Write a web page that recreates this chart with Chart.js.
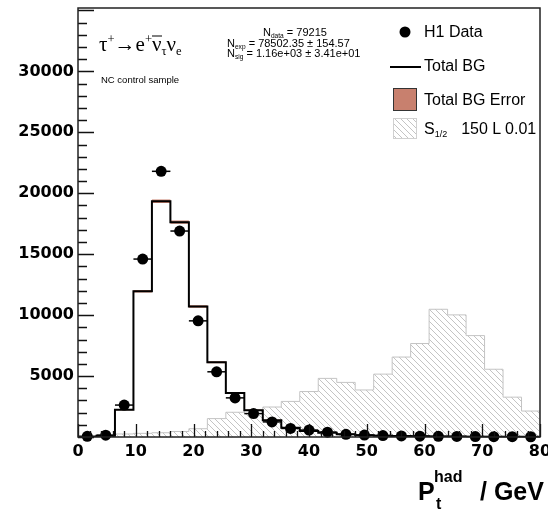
<!DOCTYPE html>
<html>
<head>
<meta charset="utf-8">
<script src="https://cdn.jsdelivr.net/npm/chart.js@4.4.1/dist/chart.umd.min.js"></script>
<style>
  html, body { margin: 0; padding: 0; background: #fff; }
  #wrap { position: relative; width: 548px; height: 515px; overflow: hidden; }
  #plot { position: absolute; left: 0; top: 0; }
  .t { position: absolute; white-space: nowrap; line-height: 1; color: #000;
       font-family: "Liberation Sans", Arial, sans-serif; transform: translateY(-50%); }
  .sb { font-size: 0.6em; position: relative; top: 0.3em; }
  .sp { font-size: 0.6em; position: relative; top: -0.6em; }
  .bar { display: inline-block; border-top: 1.5px solid #000; line-height: 0.75; }
  .leg { font-size: 16px; left: 424px; }
  .nt { font-size: 11px; }
  .ax { font-family: "Liberation Sans", Arial, sans-serif; font-weight: bold; position: absolute;
        line-height: 1; white-space: nowrap; }
</style>
</head>
<body>
<div id="wrap">
  <canvas id="plot" width="548" height="515"></canvas>

  <div class="t" style="left:99px; top:44px; font-family:'Liberation Serif', serif; font-size:21px;">τ<span class="sp">+</span>→e<span class="sp">+</span><span class="bar">ν</span><span class="sb">τ</span>ν<span class="sb">e</span></div>
  <div class="t" style="left:101px; top:80px; font-size:9.5px;">NC control sample</div>

  <div class="t nt" style="left:263px; top:32px;">N<span class="sb">data</span> = 79215</div>
  <div class="t nt" style="left:227px; top:43px;">N<span class="sb">exp</span> = 78502.35 ± 154.57</div>
  <div class="t nt" style="left:227px; top:53px;">N<span class="sb">sig</span> = 1.16e+03 ± 3.41e+01</div>

  <div class="t leg" style="top:32px;">H1 Data</div>
  <div class="t leg" style="top:66px;">Total BG</div>
  <div class="t leg" style="top:100px;">Total BG Error</div>
  <div class="t leg" style="top:129px;">S<span class="sb" style="font-size:9px">1/2</span><span style="margin-left:14px">150 L 0.01</span></div>

  <div class="ax" style="left:418px; top:479px; font-size:25px;">P</div>
  <div class="ax" style="left:434px; top:469px; font-size:16px;">had</div>
  <div class="ax" style="left:436px; top:496px; font-size:16px;">t</div>
  <div class="ax" style="left:480px; top:479px; font-size:25px;">/ GeV</div>
</div>

<script>
// P_t^had bins, 3.2 GeV wide
const binEdges = [0, 3.2, 6.4, 9.6, 12.8, 16, 19.2, 22.4, 25.6, 28.8, 32, 35.2, 38.4,
  41.6, 44.8, 48, 51.2, 54.4, 57.6, 60.8, 64, 67.2, 70.4, 73.6, 76.8, 80];

const dataCounts = [60, 150, 2620, 14600, 21800, 16900, 9530, 5350, 3210, 1920, 1240, 700,
  570, 400, 220, 160, 120, 90, 70, 55, 45, 35, 30, 25, 20];

const bgCounts = [0, 100, 2240, 11960, 19350, 17630, 10700, 6130, 3620, 2190, 1380, 760,
  490, 350, 220, 150, 110, 80, 60, 50, 40, 30, 25, 20, 15];

const bgErrors = [0, 10, 50, 110, 140, 135, 105, 80, 60, 47, 37, 28,
  22, 19, 15, 12, 10, 9, 8, 7, 6, 5, 5, 4, 4];

const signalCounts = [0, 50, 250, 300, 350, 450, 680, 1510, 2030, 2240, 2460, 2920,
  3730, 4810, 4480, 3860, 5160, 6560, 7670, 10480, 10020, 8320, 5560, 3270, 2130];

const xTicks = [0, 10, 20, 30, 40, 50, 60, 70, 80];
const yTicks = [5000, 10000, 15000, 20000, 25000, 30000];

const tickFont = { family: 'DejaVu Sans', size: 16, weight: 'bold' };

// histogram outline: value of bin i runs from edge i to edge i+1
function stepPoints(values, dropAtEnd) {
  const pts = values.map((v, i) => ({ x: binEdges[i], y: v }));
  pts.push({ x: binEdges[values.length], y: values[values.length - 1] });
  if (dropAtEnd) pts.push({ x: binEdges[values.length], y: 0 });
  return pts;
}

const dataPoints = dataCounts.map((v, i) => ({
  x: (binEdges[i] + binEdges[i + 1]) / 2, y: v, lo: binEdges[i], hi: binEdges[i + 1]
}));
const bandUpper = bgCounts.map((v, i) => v + bgErrors[i]);
const bandLower = bgCounts.map((v, i) => Math.max(v - bgErrors[i], 0));

function makeHatch(color) {
  const c = document.createElement('canvas');
  c.width = 6; c.height = 6;
  const g = c.getContext('2d');
  g.strokeStyle = color;
  g.lineWidth = 1;
  g.beginPath();
  g.moveTo(0, 0); g.lineTo(6, 6);
  g.moveTo(-1, 5); g.lineTo(1, 7);
  g.moveTo(5, -1); g.lineTo(7, 1);
  g.stroke();
  return g.createPattern(c, 'repeat');
}
const hatch = makeHatch('#c4c4c4');
const errColor = '#c8806e';

// inside ticks, frame, horizontal error bars and legend symbols
const rootStyle = {
  id: 'rootStyle',
  afterDatasetsDraw(chart) {
    const { ctx, chartArea: a, scales: { x, y } } = chart;
    ctx.save();

    // bin-width bars on the data points
    ctx.strokeStyle = '#000';
    ctx.lineWidth = 1.5;
    dataPoints.forEach(p => {
      const py = y.getPixelForValue(p.y);
      ctx.beginPath();
      ctx.moveTo(x.getPixelForValue(p.lo), py);
      ctx.lineTo(x.getPixelForValue(p.hi), py);
      ctx.stroke();
    });

    ctx.lineWidth = 1.3;
    ctx.strokeStyle = '#111';
    ctx.beginPath();
    for (let v = 0; v <= y.max; v += 1000) {
      const py = Math.round(y.getPixelForValue(v)) + 0.5;
      const len = v % 5000 === 0 ? 16 : 9;
      ctx.moveTo(a.left, py);
      ctx.lineTo(a.left + len, py);
    }
    for (let v = 0; v <= x.max; v += 2) {
      const px = Math.round(x.getPixelForValue(v)) + 0.5;
      const len = v % 10 === 0 ? 13 : 6;
      ctx.moveTo(px, a.bottom);
      ctx.lineTo(px, a.bottom - len);
    }
    ctx.stroke();

    ctx.lineWidth = 1.5;
    ctx.strokeStyle = '#222';
    ctx.strokeRect(a.left, a.top, a.right - a.left, a.bottom - a.top);

    // legend symbols
    ctx.fillStyle = '#000';
    ctx.beginPath();
    ctx.arc(405, 32, 5.5, 0, Math.PI * 2);
    ctx.fill();

    ctx.lineWidth = 2;
    ctx.strokeStyle = '#000';
    ctx.beginPath();
    ctx.moveTo(390, 67);
    ctx.lineTo(421, 67);
    ctx.stroke();

    ctx.fillStyle = errColor;
    ctx.fillRect(393, 88, 24, 23);
    ctx.lineWidth = 1;
    ctx.strokeStyle = '#333';
    ctx.strokeRect(393.5, 88.5, 23, 22);

    ctx.fillStyle = hatch;
    ctx.fillRect(393, 118, 24, 21);
    ctx.strokeStyle = '#d0d0d0';
    ctx.strokeRect(393.5, 118.5, 23, 20);

    ctx.restore();
  }
};

new Chart(document.getElementById('plot'), {
  type: 'line',
  data: {
    datasets: [
      {
        label: 'H1 Data',
        data: dataPoints,
        showLine: false,
        pointRadius: 5.5,
        pointBorderWidth: 0,
        pointBackgroundColor: '#000',
        clip: false,
        order: 0
      },
      {
        label: 'Total BG',
        data: stepPoints(bgCounts, false),
        stepped: true,
        borderColor: '#000',
        borderWidth: 2,
        pointRadius: 0,
        fill: false,
        order: 1
      },
      {
        label: 'Total BG Error',
        data: stepPoints(bandUpper, false),
        stepped: true,
        borderWidth: 0,
        pointRadius: 0,
        backgroundColor: errColor,
        fill: '+1',
        order: 2
      },
      {
        label: 'err low',
        data: stepPoints(bandLower, false),
        stepped: true,
        borderWidth: 0,
        pointRadius: 0,
        fill: false,
        order: 3
      },
      {
        label: 'S1/2 150 L 0.01',
        data: stepPoints(signalCounts, true),
        stepped: true,
        borderColor: '#c4c4c4',
        borderWidth: 1,
        pointRadius: 0,
        backgroundColor: hatch,
        fill: 'origin',
        order: 4
      }
    ]
  },
  options: {
    responsive: false,
    animation: false,
    devicePixelRatio: 1,
    layout: { padding: { left: 0, right: 8, top: 8, bottom: 0 } },
    plugins: { legend: { display: false }, tooltip: { enabled: false } },
    scales: {
      x: {
        type: 'linear',
        min: 0,
        max: 80,
        grid: { display: false, drawTicks: false },
        border: { display: false },
        afterBuildTicks: ax => { ax.ticks = xTicks.map(v => ({ value: v })); },
        afterFit: ax => { ax.height = 78; ax.paddingLeft = 0; ax.paddingRight = 0; },
        ticks: { font: tickFont, color: '#000', padding: 5, maxRotation: 0, autoSkip: false,
                 callback: v => String(v) }
      },
      y: {
        type: 'linear',
        min: 0,
        max: 35200,
        grid: { display: false, drawTicks: false },
        border: { display: false },
        afterBuildTicks: ax => { ax.ticks = yTicks.map(v => ({ value: v })); },
        afterFit: ax => { ax.width = 78; ax.paddingTop = 0; ax.paddingBottom = 0; },
        ticks: { font: tickFont, color: '#000', padding: 4, autoSkip: false,
                 callback: v => String(v) }
      }
    }
  },
  plugins: [rootStyle]
});
</script>
</body>
</html>
